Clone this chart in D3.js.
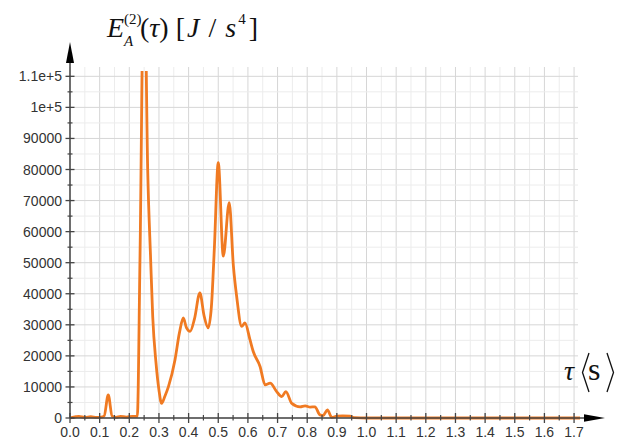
<!DOCTYPE html>
<html>
<head>
<meta charset="utf-8">
<script src="https://cdn.jsdelivr.net/npm/d3@7"></script>
<style>
  body { margin: 0; background: #fff; }
  .tick-label { font-family: "Liberation Sans", Arial, sans-serif; font-size: 14px; fill: #333; }
  .math { font-family: "Liberation Serif", "Times New Roman", serif; fill: #111; }
</style>
</head>
<body>
<div class="container-chart"></div>
<script>
/* ---------------- data ---------------- */
const tauValues = [
  0, 0.02, 0.03, 0.05, 0.07, 0.09, 0.105, 0.115, 0.129, 0.142, 0.155, 0.17, 0.19, 0.21, 0.227,
  0.236, 0.25, 0.262, 0.272, 0.279, 0.29, 0.3, 0.309, 0.32, 0.332, 0.354, 0.369, 0.382, 0.393,
  0.405, 0.42, 0.438, 0.452, 0.466, 0.477, 0.487, 0.5, 0.517, 0.537, 0.551, 0.562, 0.579, 0.59,
  0.607, 0.618, 0.641, 0.658, 0.675, 0.697, 0.714, 0.728, 0.748, 0.776, 0.793, 0.81, 0.826,
  0.843, 0.854, 0.868, 0.883, 0.9, 0.92, 0.944, 0.96, 1.0, 1.2, 1.4, 1.6, 1.72
];
const energyValues = [
  0, 400, 500, 200, 400, 200, 300, 600, 7400, 600, 200, 500, 300, 500, 500,
  51000, 150000, 80000, 51000, 32600, 17800, 9000, 4700, 7000, 10100, 18700, 27400, 32200, 29000,
  27900, 32000, 40300, 33000, 29000, 36000, 55000, 82200, 52100, 69300, 49000, 39200, 29500, 30600,
  25200, 21400, 16600, 10700, 11200, 8500, 6900, 8500, 4700, 3600, 3900, 3500, 3600,
  1000, 800, 2600, 200, 600, 700, 600, 100, 0, 0, 0, 0, 0
];
const xTickValues = d3.range(0, 18).map(i => i / 10);
const xMinorValues = d3.range(0, 35).map(i => i / 20);
const yTickValues = d3.range(0, 12).map(i => i * 10000);
const yMinorValues = d3.range(0, 23).map(i => i * 5000);

/* ---------------- layout ---------------- */
const width = 630, height = 441;
const x0 = 70, y0 = 418;

const x = d3.scaleLinear().domain([0, 1.72]).range([x0, 580]);
const y = d3.scaleLinear().domain([0, 113000]).range([y0, 67]);

const svg = d3.select(".container-chart")
  .append("svg")
  .attr("width", width)
  .attr("height", height);

/* grid */
const grid = svg.append("g");
grid.selectAll(".vminor").data(xMinorValues).enter().append("line")
  .attr("x1", d => x(d)).attr("x2", d => x(d))
  .attr("y1", y.range()[1]).attr("y2", y0)
  .attr("stroke", (d, i) => i % 2 ? "#ececec" : "#d6d6d6")
  .attr("stroke-width", 1);
grid.selectAll(".hminor").data(yMinorValues).enter().append("line")
  .attr("x1", x0).attr("x2", x.range()[1] - 2)
  .attr("y1", d => y(d)).attr("y2", d => y(d))
  .attr("stroke", (d, i) => i % 2 ? "#ececec" : "#d6d6d6")
  .attr("stroke-width", 1);

/* curve */
svg.append("clipPath").attr("id", "clip")
  .append("rect").attr("x", x0).attr("y", 71).attr("width", 520).attr("height", 360);

const line = d3.line()
  .x(d => x(d[0]))
  .y(d => y(d[1]))
  .curve(d3.curveMonotoneX);

svg.append("path")
  .datum(d3.zip(tauValues, energyValues))
  .attr("clip-path", "url(#clip)")
  .attr("d", line)
  .attr("fill", "none")
  .attr("stroke", "#f07a22")
  .attr("stroke-width", 2.8)
  .attr("stroke-linejoin", "round");

/* axes */
const axisColor = "#444";
svg.append("line").attr("x1", x0).attr("x2", x0).attr("y1", y0).attr("y2", 60)
  .attr("stroke", axisColor).attr("stroke-width", 1.5);
svg.append("line").attr("x1", x0).attr("x2", 586).attr("y1", y0).attr("y2", y0)
  .attr("stroke", axisColor).attr("stroke-width", 1.5);
svg.append("path").attr("d", "M70,42 L66,63 L74,63 Z").attr("fill", "#000");
svg.append("path").attr("d", "M605,418 L584,414.2 L584,421.8 Z").attr("fill", "#000");

// y ticks
svg.selectAll(".ymin").data(yMinorValues.filter((d, i) => i % 2)).enter().append("line")
  .attr("x1", x0 - 2.5).attr("x2", x0 + 2.5)
  .attr("y1", d => y(d)).attr("y2", d => y(d))
  .attr("stroke", axisColor).attr("stroke-width", 1.2);
svg.selectAll(".ymaj").data(yTickValues).enter().append("line")
  .attr("x1", x0 - 4.5).attr("x2", x0 + 4.5)
  .attr("y1", d => y(d)).attr("y2", d => y(d))
  .attr("stroke", axisColor).attr("stroke-width", 1.3);
const yFmt = d => d >= 100000 ? d3.format("~e")(d) : String(d);
svg.selectAll(".ylab").data(yTickValues).enter().append("text")
  .attr("class", "tick-label")
  .attr("x", 62).attr("y", d => y(d))
  .attr("dy", "0.36em")
  .attr("text-anchor", "end")
  .text(yFmt);

// x ticks
svg.selectAll(".xmin").data(xMinorValues.filter((d, i) => i % 2)).enter().append("line")
  .attr("x1", d => x(d)).attr("x2", d => x(d))
  .attr("y1", y0 - 3).attr("y2", y0 + 2.5)
  .attr("stroke", axisColor).attr("stroke-width", 1.2);
svg.selectAll(".xmaj").data(xTickValues).enter().append("line")
  .attr("x1", d => x(d)).attr("x2", d => x(d))
  .attr("y1", y0 - 5).attr("y2", y0 + 5)
  .attr("stroke", axisColor).attr("stroke-width", 1.3);
svg.selectAll(".xlab").data(xTickValues).enter().append("text")
  .attr("class", "tick-label")
  .attr("x", d => x(d)).attr("y", 437)
  .attr("text-anchor", "middle")
  .text(d3.format(".1f"));

/* titles */
const t = svg.append("g").attr("class", "math");
t.append("text").attr("x", 107).attr("y", 37).attr("font-size", 28).attr("font-style", "italic").text("E");
t.append("text").attr("x", 124).attr("y", 24).attr("font-size", 15).text("(2)");
t.append("text").attr("x", 124).attr("y", 46).attr("font-size", 15).attr("font-style", "italic").text("A");
const rest = t.append("text").attr("x", 140).attr("y", 37).attr("font-size", 28);
rest.append("tspan").text("(");
rest.append("tspan").attr("font-style", "italic").text("τ");
rest.append("tspan").text(") [");
rest.append("tspan").attr("dx", 2).attr("font-style", "italic").text("J");
rest.append("tspan").attr("dx", 2).text(" / ");
rest.append("tspan").attr("dx", 2).attr("font-style", "italic").text("s");
const bb = rest.node().getBBox();
const restEnd = bb.x + bb.width;
const sup = t.append("text").attr("x", restEnd + 2).attr("y", 24).attr("font-size", 15).text("4");
t.append("text").attr("x", restEnd + 5 + sup.node().getComputedTextLength()).attr("y", 37)
  .attr("font-size", 28).text("]");

// x axis label
t.append("text").attr("x", 564).attr("y", 380).attr("font-size", 28).attr("font-style", "italic").text("τ");
t.append("text").attr("x", 588).attr("y", 380).attr("font-size", 32).text("s");
svg.append("path").attr("d", "M589,353 L582.5,372.5 L589,392").attr("fill", "none").attr("stroke", "#111").attr("stroke-width", 1.3);
svg.append("path").attr("d", "M607,353 L613.5,372.5 L607,392").attr("fill", "none").attr("stroke", "#111").attr("stroke-width", 1.3);
</script>
</body>
</html>
